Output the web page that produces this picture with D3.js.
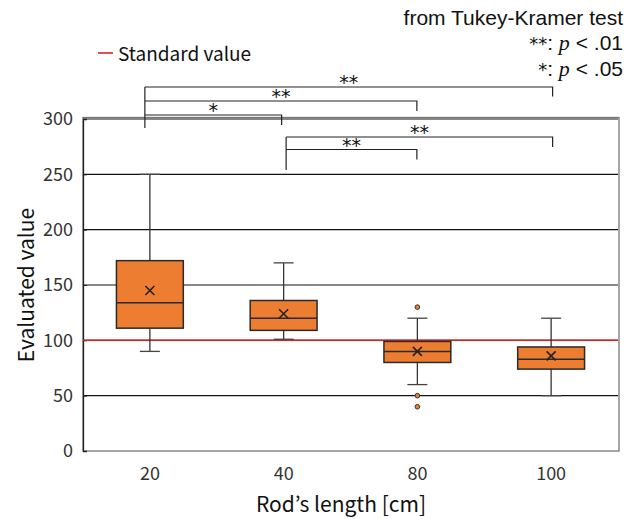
<!DOCTYPE html>
<html>
<head>
<meta charset="utf-8">
<script src="https://cdn.jsdelivr.net/npm/d3@7"></script>
<style>
  body { margin: 0; background: #fff; }
  text { font-family: "Noto Sans CJK JP", "Noto Sans", sans-serif; }
</style>
</head>
<body>
<svg id="chart" width="636" height="519"></svg>
<script>
// box statistics
var categories   = ["20", "40", "80", "100"];
var whiskerLow   = [90, 101, 60, 50];
var q1           = [111, 109, 80, 74];
var median       = [134, 120, 90, 83];
var q3           = [172, 136, 99, 94];
var whiskerHigh  = [250, 170, 120, 120];
var means        = [145, 124, 90, 86];
var outliers     = [[], [], [130, 50, 40], []];
var yTicks       = [0, 50, 100, 150, 200, 250, 300];
var standardValue = 100;

// Tukey-Kramer pairs
var compFrom   = ["20", "20", "20", "40", "40"];
var compTo     = ["100", "80", "40", "100", "80"];
var compLabels = ["**", "**", "*", "**", "**"];

var svg = d3.select("#chart");
var margin = {left: 83, right: 618, top: 119, bottom: 451};

var x = d3.scaleBand().domain(categories).range([margin.left, margin.right]).padding(0);
var y = d3.scaleLinear().domain([0, 300]).range([margin.bottom, margin.top]);
var boxW = x.bandwidth() * 0.5;

var rows = categories.map(function(c, i){
    return {cat: c, lo: whiskerLow[i], q1: q1[i], med: median[i], q3: q3[i], hi: whiskerHigh[i], mean: means[i], out: outliers[i]};
});

// gridlines
svg.append("g").selectAll("line").data(yTicks.filter(function(t){ return t > 0; }))
  .enter().append("line")
  .attr("x1", margin.left).attr("x2", margin.right)
  .attr("y1", function(d){ return y(d); }).attr("y2", function(d){ return y(d); })
  .attr("stroke", "#111").attr("stroke-width", 1.2);

// frame
svg.append("rect")
  .attr("x", margin.left).attr("y", margin.top - 1.5)
  .attr("width", margin.right - margin.left + 1).attr("height", margin.bottom - margin.top + 1.5)
  .attr("fill", "none").attr("stroke", "#777").attr("stroke-width", 1.3);

// y axis
var yAxis = d3.axisLeft(y).tickValues(yTicks).tickSize(-4).tickPadding(10);
var ga = svg.append("g").attr("transform", "translate(" + margin.left + ",0)").call(yAxis);
ga.select(".domain").attr("stroke", "#222").attr("stroke-width", 1.3);
ga.selectAll(".tick line").attr("stroke", "#222");
ga.selectAll("text").attr("font-size", 18).attr("fill", "#333")
  .style("font-family", "'Noto Sans CJK JP', sans-serif");

// x axis labels
var xAxis = d3.axisBottom(x).tickSize(0).tickPadding(16);
var gx = svg.append("g").attr("transform", "translate(0," + margin.bottom + ")").call(xAxis);
gx.select(".domain").remove();
gx.selectAll("text").attr("font-size", 18).attr("fill", "#333")
  .style("font-family", "'Noto Sans CJK JP', sans-serif");

// standard value line
svg.append("line")
  .attr("x1", margin.left).attr("x2", margin.right)
  .attr("y1", y(standardValue)).attr("y2", y(standardValue))
  .attr("stroke", "#d42020").attr("stroke-width", 1.5);

// boxes
var g = svg.append("g").selectAll("g").data(rows).enter().append("g")
  .attr("transform", function(d){ return "translate(" + (x(d.cat) + x.bandwidth() / 2) + ",0)"; });

g.append("line").attr("x1", 0).attr("x2", 0)
  .attr("y1", function(d){ return y(d.hi); }).attr("y2", function(d){ return y(d.q3); })
  .attr("stroke", "#333").attr("stroke-width", 1.3);
g.append("line").attr("x1", 0).attr("x2", 0)
  .attr("y1", function(d){ return y(d.q1); }).attr("y2", function(d){ return y(d.lo); })
  .attr("stroke", "#333").attr("stroke-width", 1.3);
["hi", "lo"].forEach(function(k){
    g.append("line").attr("x1", -10).attr("x2", 10)
      .attr("y1", function(d){ return y(d[k]); }).attr("y2", function(d){ return y(d[k]); })
      .attr("stroke", "#444").attr("stroke-width", 1.3);
});

g.append("rect")
  .attr("x", -boxW / 2).attr("width", boxW)
  .attr("y", function(d){ return y(d.q3); })
  .attr("height", function(d){ return y(d.q1) - y(d.q3); })
  .attr("fill", "#ed7d31").attr("stroke", "#2a2a2a").attr("stroke-width", 1.5);
g.append("line").attr("x1", -boxW / 2).attr("x2", boxW / 2)
  .attr("y1", function(d){ return y(d.med); }).attr("y2", function(d){ return y(d.med); })
  .attr("stroke", "#2a2a2a").attr("stroke-width", 1.5);

// mean x
g.append("path")
  .attr("d", function(d){ var m = y(d.mean), s = 4.5; return "M" + (-s) + "," + (m - s) + "L" + s + "," + (m + s) + "M" + s + "," + (m - s) + "L" + (-s) + "," + (m + s); })
  .attr("stroke", "#222").attr("stroke-width", 1.6).attr("fill", "none");

// outliers
g.selectAll("circle").data(function(d){ return d.out; }).enter().append("circle")
  .attr("cx", 0).attr("cy", function(v){ return y(v); }).attr("r", 2.3)
  .attr("fill", "#ed7d31").attr("stroke", "#333").attr("stroke-width", 1);

// significance brackets
var bracketY = [87, 101, 115, 137, 149.5];
var leftOff = {"20": -5, "40": 2.5};
var rightOff = {"40": -2, "80": -0.5, "100": 1.5};
var rightDrop = [9.5, 10, 10, 10, 10];
var cx = function(c){ return x(c) + x.bandwidth() / 2; };
var bg = svg.append("g").attr("fill", "none").attr("stroke", "#222").attr("stroke-width", 1.2);
compFrom.forEach(function(f, i){
    var x1 = cx(f) + leftOff[f], x2 = cx(compTo[i]) + rightOff[compTo[i]], yy = bracketY[i];
    bg.append("path").attr("d", "M" + x1 + "," + yy + "H" + x2 + "V" + (yy + rightDrop[i]));
    svg.append("text").attr("x", (x1 + x2) / 2).attr("y", yy + 2)
      .attr("text-anchor", "middle").attr("font-size", 19).attr("fill", "#111")
      .style("font-family", "'DejaVu Sans', sans-serif").text(compLabels[i]);
});
// shared left verticals
bg.append("line").attr("x1", cx("20") - 5).attr("x2", cx("20") - 5).attr("y1", 87).attr("y2", 128);
bg.append("line").attr("x1", cx("40") + 2.5).attr("x2", cx("40") + 2.5).attr("y1", 137).attr("y2", 170);

// axis titles
svg.append("text").attr("transform", "translate(34," + y(150) + ") rotate(-90)")
  .attr("text-anchor", "middle").attr("font-size", 21).attr("fill", "#111").text("Evaluated value");
svg.append("text").attr("x", 341).attr("y", 512)
  .attr("text-anchor", "middle").attr("font-size", 21).attr("fill", "#111").text("Rod\u2019s length [cm]");

// legend
svg.append("line").attr("x1", 98).attr("x2", 113).attr("y1", 53).attr("y2", 53)
  .attr("stroke", "#e02020").attr("stroke-width", 1.6);
svg.append("text").attr("x", 118).attr("y", 61).attr("font-size", 19).attr("fill", "#111").text("Standard value");

// test note
var note = svg.append("g").attr("text-anchor", "end").attr("font-size", 21).attr("fill", "#111");
note.append("text").attr("x", 623).attr("y", 25).style("font-family", "'Liberation Sans', sans-serif")
  .text("from Tukey-Kramer test");
[["**", ".01", 50], ["*", ".05", 76]].forEach(function(r){
    var t = note.append("text").attr("x", 623).attr("y", r[2]).style("font-family", "'Liberation Sans', sans-serif");
    t.append("tspan").style("font-family", "'DejaVu Sans', sans-serif").attr("font-size", 18).text(r[0]);
    t.append("tspan").text(": ");
    t.append("tspan").style("font-family", "'Liberation Serif', serif").attr("font-style", "italic").attr("font-size", 22).text("p");
    t.append("tspan").text(" < " + r[1]);
});
</script>
</body>
</html>
